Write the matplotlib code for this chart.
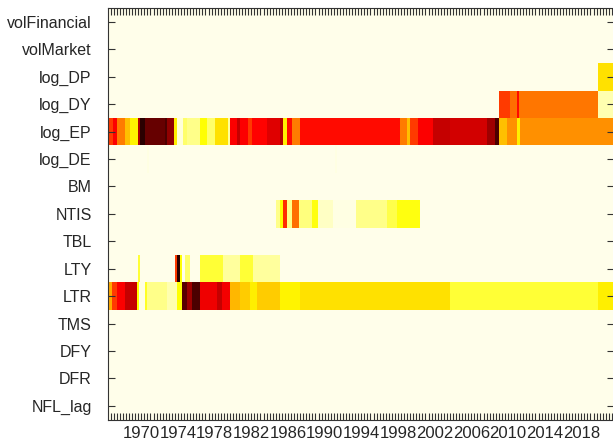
import numpy as np
import matplotlib
matplotlib.use("Agg")
import matplotlib.pyplot as plt
from matplotlib.ticker import MultipleLocator

plt.rcParams["font.family"] = ["Liberation Sans", "DejaVu Sans"]

# predictors, top to bottom
variables = ["volFinancial", "volMarket", "log_DP", "log_DY", "log_EP", "log_DE",
             "BM", "NTIS", "TBL", "LTY", "LTR", "TMS", "DFY", "DFR", "NFL_lag"]

x_start, x_end = 1966.4, 2021.6
year_ticks = list(range(1970, 2019, 4))

# each series: segment edges (years) and the weight inside each segment
log_DP_t = [2019.8, 2021.6]
log_DP_v = [0.30]

log_DY_t = [2009.0, 2010.2, 2011.0, 2011.2, 2019.8, 2021.6]
log_DY_v = [0.55, 0.47, 0.62, 0.46, 0.08]

log_EP_t = [1966.4, 1966.9, 1967.35, 1968.2, 1968.8, 1969.65, 1969.85, 1970.4, 1972.6,
            1972.8, 1973.55, 1973.9, 1974.55, 1975.0, 1976.4, 1977.15, 1978.05, 1979.45,
            1979.65, 1980.45, 1980.75, 1981.65, 1982.05, 1983.7, 1985.1, 1985.45, 1985.9,
            1986.45, 1987.3, 1998.2, 1999.0, 1999.3, 2000.2, 2001.8, 2003.65, 2007.7,
            2008.55, 2009.0, 2009.9, 2011.0, 2011.3, 2021.6]
log_EP_v = [0.55, 0.64, 0.45, 0.35, 0.27, 0.75, 0.95, 0.86, 0.90,
            0.80, 0.28, 0.04, 0.15, 0.12, 0.25, 0.15, 0.30,
            0.10, 0.64, 0.72, 0.64, 0.55, 0.63, 0.68, 0.75, 0.28,
            0.62, 0.45, 0.62, 0.45, 0.35, 0.55, 0.64, 0.72, 0.70,
            0.78, 0.90, 0.35, 0.42, 0.28, 0.42]

log_DE_t = [1970.6, 1970.8, 1991.1, 1991.3]
log_DE_v = [0.03, np.nan, 0.03]

NTIS_t = [1984.7, 1985.1, 1985.45, 1985.9, 1986.45, 1987.2, 1988.6, 1989.25, 1990.9,
          1993.4, 1996.8, 1997.9, 2000.4]
NTIS_v = [0.12, 0.25, 0.57, 0.12, 0.47, 0.13, 0.24, 0.06, 0.03, 0.12, 0.18, 0.24]

LTY_t = [1969.65, 1969.85, 1973.7, 1973.9, 1974.2, 1974.45, 1974.75, 1975.3, 1976.4,
         1978.9, 1980.75, 1982.2, 1985.1]
LTY_v = [0.20, np.nan, 0.55, 0.95, 0.25, np.nan, 0.15, np.nan, 0.20, 0.10, 0.20, 0.10]

LTR_t = [1966.4, 1966.8, 1967.35, 1968.2, 1969.55, 1969.75, 1970.4, 1970.6, 1972.8,
         1973.9, 1974.45, 1975.0, 1975.5, 1976.4, 1978.25, 1978.8, 1979.65, 1980.75,
         1981.85, 1982.6, 1985.1, 1987.3, 2003.65, 2019.8, 2021.6]
LTR_v = [0.38, 0.55, 0.64, 0.72, 0.25, 0.03, 0.22, 0.12, 0.08,
         0.25, 0.88, 0.78, 0.90, 0.66, 0.72, 0.65, 0.36, 0.33,
         0.28, 0.33, 0.27, 0.30, 0.20, 0.28]

series = {
    "log_DP": (log_DP_t, log_DP_v),
    "log_DY": (log_DY_t, log_DY_v),
    "log_EP": (log_EP_t, log_EP_v),
    "log_DE": (log_DE_t, log_DE_v),
    "NTIS": (NTIS_t, NTIS_v),
    "LTY": (LTY_t, LTY_v),
    "LTR": (LTR_t, LTR_v),
}

fig = plt.figure(figsize=(6.13, 4.44), dpi=100)
ax = fig.add_axes([108.3 / 613, 24.5 / 444, 506 / 613, 411.2 / 444])
ax.set_facecolor("#fffeea")

for name, (edges, vals) in series.items():
    row = variables.index(name)
    vals = np.ma.masked_invalid(np.array(vals, dtype=float))
    ax.pcolormesh(edges, [row - 0.5, row + 0.5], vals[None, :],
                  cmap="hot_r", vmin=0, vmax=1, shading="flat")

ax.set_xlim(x_start, x_end)
ax.set_ylim(len(variables) - 0.5, -0.5)
ax.set_yticks(range(len(variables)))
ax.set_yticklabels(variables)
ax.set_xticks(year_ticks)
ax.set_xticklabels([str(y) for y in year_ticks])
ax.xaxis.set_minor_locator(MultipleLocator(1 / 3))

ax.tick_params(axis="both", which="both", direction="in", top=True, right=True,
               labelcolor="#262626", color="#333333")
ax.tick_params(axis="both", which="major", length=5, width=0.8)
ax.tick_params(axis="x", which="minor", length=5, width=0.8)
ax.tick_params(axis="x", which="major", pad=5, labelsize=12)
ax.tick_params(axis="y", which="major", pad=12, labelsize=11.5)
for s in ax.spines.values():
    s.set_color("#333333")

fig.savefig("out.png", dpi=100)
